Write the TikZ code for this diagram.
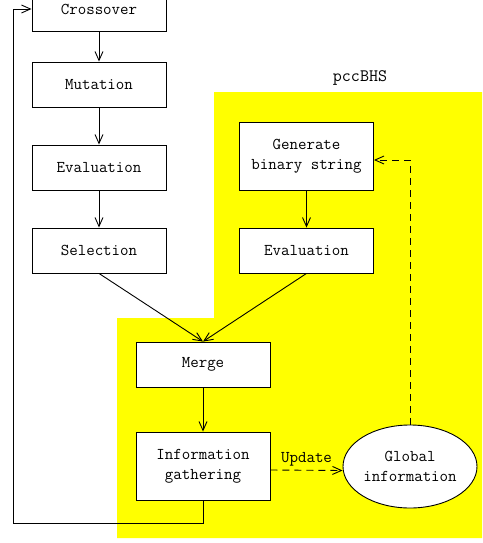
\documentclass[tikz,border=0pt]{standalone}
\usetikzlibrary{arrows.meta,shapes.geometric}
\definecolor{jaune}{RGB}{255,255,0}
\begin{document}
\begin{tikzpicture}[x=1pt,y=-1pt]
	% Styles
	\tikzstyle{fleche}=[-{Straight Barb[length=9pt,width=8pt]},line width=0.9pt]
	\tikzstyle{pointille}=[fleche,dash pattern=on 7pt off 5pt]
	\tikzstyle{texte}=[font=\ttfamily\fontsize{16.5}{20}\selectfont,align=center]
	\tikzstyle{boite}=[texte,draw,fill=white,line width=0.9pt,minimum width=134pt,minimum height=45pt]
	\tikzstyle{grandeboite}=[boite,minimum height=68pt]
	\tikzstyle{bulle}=[texte,draw,fill=white,line width=0.9pt,ellipse,inner sep=0pt,minimum width=134pt,minimum height=83pt]
	\tikzstyle{zone}=[fill=jaune]
	% Dimensions
	\def\ColonneA{99}
	\def\ColonneB{306.5}
	\def\ColonneC{203}
	\def\ColonneD{410}
	% Cadre
	\useasboundingbox (0,0) rectangle (482,543);
	\clip (0,0) rectangle (482,543);
	\fill[zone] (117,318) -- (214,318) -- (214,92) -- (482,92) -- (482,538) -- (117,538) -- cycle;
	\node[texte,font=\ttfamily\fontsize{17.5}{20}\selectfont] (titre) at (360,78) {pccBHS};
	% Noeuds
	\node[boite] (crossover) at ({\ColonneA},9) {Crossover};
	\node[boite] (mutation) at ({\ColonneA},84.5) {Mutation};
	\node[boite] (evalA) at ({\ColonneA},167.5) {Evaluation};
	\node[boite] (selection) at ({\ColonneA},250.5) {Selection};
	\node[grandeboite] (generation) at ({\ColonneB},156) {Generate\\binary string};
	\node[boite] (evalB) at ({\ColonneB},250.5) {Evaluation};
	\node[boite] (fusion) at ({\ColonneC},364.5) {Merge};
	\node[grandeboite] (collecte) at ({\ColonneC},466) {Information\\gathering};
	\node[bulle] (globale) at ({\ColonneD},466.5) {Global\\information};
	\coordinate (coinBas) at (13,523);
	\coordinate (coinHaut) at (13,9);
	\coordinate (retour) at ({\ColonneD},160);
	% Arcs
	\draw[fleche] (crossover.south)--(mutation.north);
	\draw[fleche] (mutation.south)--(evalA.north);
	\draw[fleche] (evalA.south)--(selection.north);
	\draw[fleche] (generation.south)--(evalB.north);
	\draw[fleche] (selection.south)--(fusion.north);
	\draw[fleche] (evalB.south)--(fusion.north);
	\draw[fleche] (fusion.south)--(collecte.north);
	\draw[fleche] (collecte.south) |- (coinBas) -- (coinHaut) -- (crossover.west);
	\draw[pointille] ([yshift=-4pt]collecte.east)--([yshift=-4pt]globale.west) node[midway,above,texte]{Update};
	\draw[pointille] (globale.north)--(retour)--(generation.east |- retour);
\end{tikzpicture}
\end{document}
